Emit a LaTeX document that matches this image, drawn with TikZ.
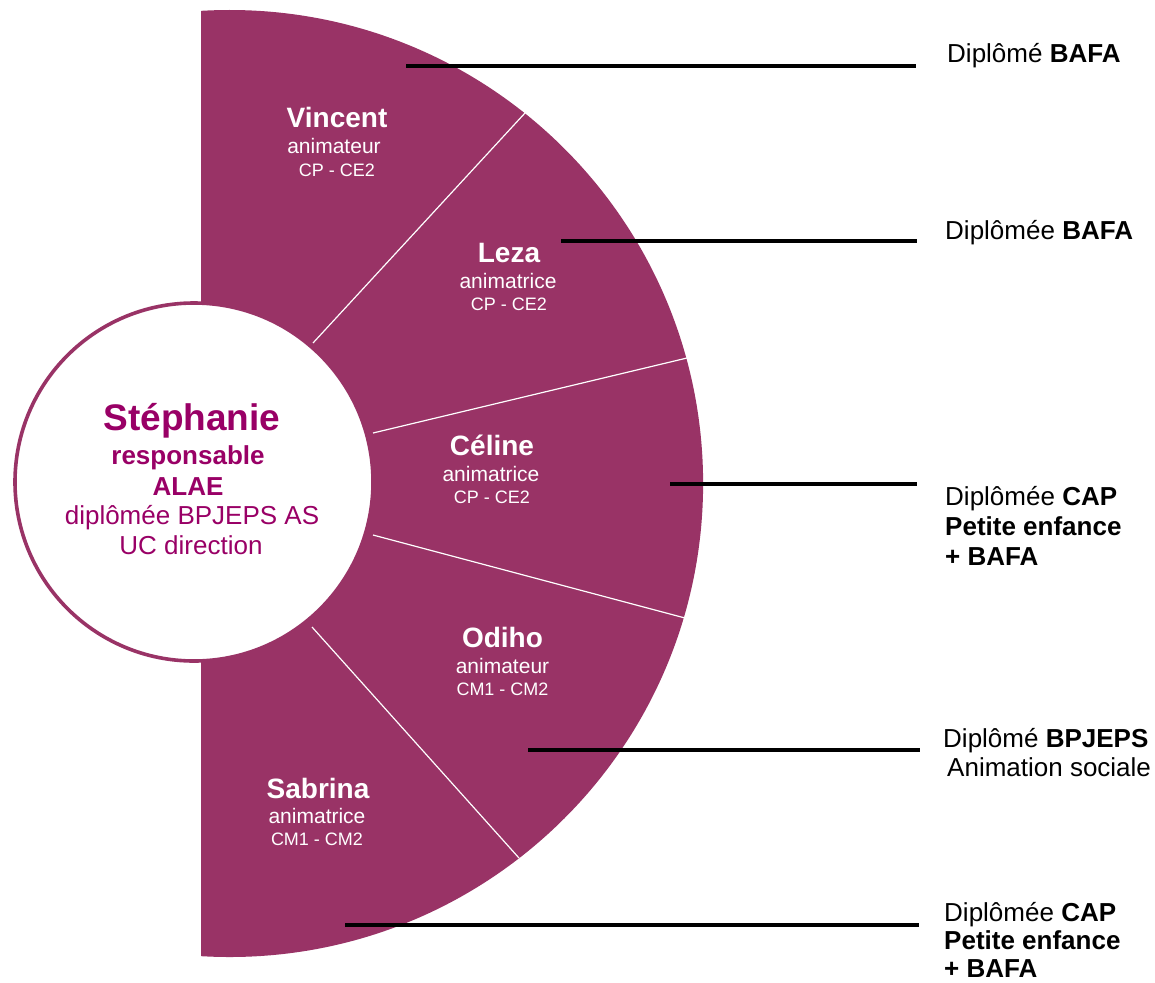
\documentclass[tikz,border=0pt]{standalone}
\usepackage{fontspec}
\setmainfont{Liberation Sans}
\definecolor{purp}{RGB}{153,51,102}
\definecolor{mag}{RGB}{153,0,102}
\tikzset{
  pname/.style={anchor=base, text=white, font=\fontsize{28}{30}\selectfont\bfseries, inner sep=0pt},
  prole/.style={anchor=base, text=white, font=\fontsize{21}{23}\selectfont, inner sep=0pt},
  pclass/.style={anchor=base, text=white, font=\fontsize{18}{20}\selectfont, inner sep=0pt},
  cbold/.style={anchor=base, text=mag, font=\fontsize{26}{28}\selectfont\bfseries, inner sep=0pt},
  creg/.style={anchor=base, text=mag, font=\fontsize{26}{28}\selectfont, inner sep=0pt},
  lbl/.style={anchor=base west, text=black, font=\fontsize{26}{28}\selectfont, inner sep=0pt},
  lead/.style={line width=3.5pt, black},
  divider/.style={white, line width=1.2pt},
}
\begin{document}
\begin{tikzpicture}[x=1pt,y=-1pt]
\useasboundingbox (0,0) rectangle (1155,982);
% outer purple segment
\begin{scope}
  \clip (201,0) rectangle (1155,982);
  \fill[purp] (229.6,483.5) circle[radius=473.5pt];
  % dividers
  \coordinate (a1) at (313,343); \coordinate (b1) at (525,113);
  \coordinate (a2) at (373,433); \coordinate (b2) at (687,358);
  \coordinate (a3) at (373,535); \coordinate (b3) at (685,618);
  \coordinate (a4) at (312,627); \coordinate (b4) at (519,858);
  \draw[divider] (a1) -- (b1);
  \draw[divider] (a2) -- (b2);
  \draw[divider] (a3) -- (b3);
  \draw[divider] (a4) -- (b4);
\end{scope}
% inner circle
\node[circle, draw=purp, fill=white, line width=3.6pt, minimum size=358pt, inner sep=0pt] (hub) at (194,482) {};
\node[anchor=base, text=mag, font=\fontsize{37}{40}\selectfont\bfseries, inner sep=0pt] (st1) at (192,430) {Stéphanie};
\node[cbold] (st2) at (188,464) {responsable};
\node[cbold] (st3) at (188,495) {ALAE};
\node[creg] (st4) at (192,524) {diplômée BPJEPS AS};
\node[creg] (st5) at (191,554) {UC direction};
% persons
\node[pname] (vin) at (337,127) {Vincent};
\node[prole] (vinr) at (334,153) {animateur};
\node[pclass] (vinc) at (337,176) {CP - CE2};
\node[pname] (lez) at (509,262) {Leza};
\node[prole] (lezr) at (508,288) {animatrice};
\node[pclass] (lezc) at (509,310) {CP - CE2};
\node[pname] (cel) at (492,455) {Céline};
\node[prole] (celr) at (491,481) {animatrice};
\node[pclass] (celc) at (492,503) {CP - CE2};
\node[pname] (odi) at (502.5,647) {Odiho};
\node[prole] (odir) at (502.5,673) {animateur};
\node[pclass] (odic) at (502.5,695) {CM1 - CM2};
\node[pname] (sab) at (318,798) {Sabrina};
\node[prole] (sabr) at (317,823) {animatrice};
\node[pclass] (sabc) at (317,845) {CM1 - CM2};
% right labels
\node[lbl] (d1) at (947,63) {Diplômé \textbf{BAFA}};
\node[lbl] (d2) at (945,239) {Diplômée \textbf{BAFA}};
\node[lbl] (d3a) at (945,505) {Diplômée \textbf{CAP}};
\node[lbl] (d3b) at (945,535) {\textbf{Petite enfance}};
\node[lbl] (d3c) at (945,565) {\textbf{+ BAFA}};
\node[lbl] (d4a) at (943,747) {Diplômé \textbf{BPJEPS}};
\node[lbl] (d4b) at (947,776) {Animation sociale};
\node[lbl] (d5a) at (944,921) {Diplômée \textbf{CAP}};
\node[lbl] (d5b) at (944,949) {\textbf{Petite enfance}};
\node[lbl] (d5c) at (944,977) {\textbf{+ BAFA}};
% leader lines
\coordinate (l1s) at (406,66);  \coordinate (l1e) at (916,66);
\coordinate (l2s) at (561,241); \coordinate (l2e) at (917,241);
\coordinate (l3s) at (670,484); \coordinate (l3e) at (917,484);
\coordinate (l4s) at (528,750); \coordinate (l4e) at (920,750);
\coordinate (l5s) at (345,925); \coordinate (l5e) at (919,925);
\draw[lead] (l1s) -- (l1e);
\draw[lead] (l2s) -- (l2e);
\draw[lead] (l3s) -- (l3e);
\draw[lead] (l4s) -- (l4e);
\draw[lead] (l5s) -- (l5e);
\end{tikzpicture}
\end{document}
